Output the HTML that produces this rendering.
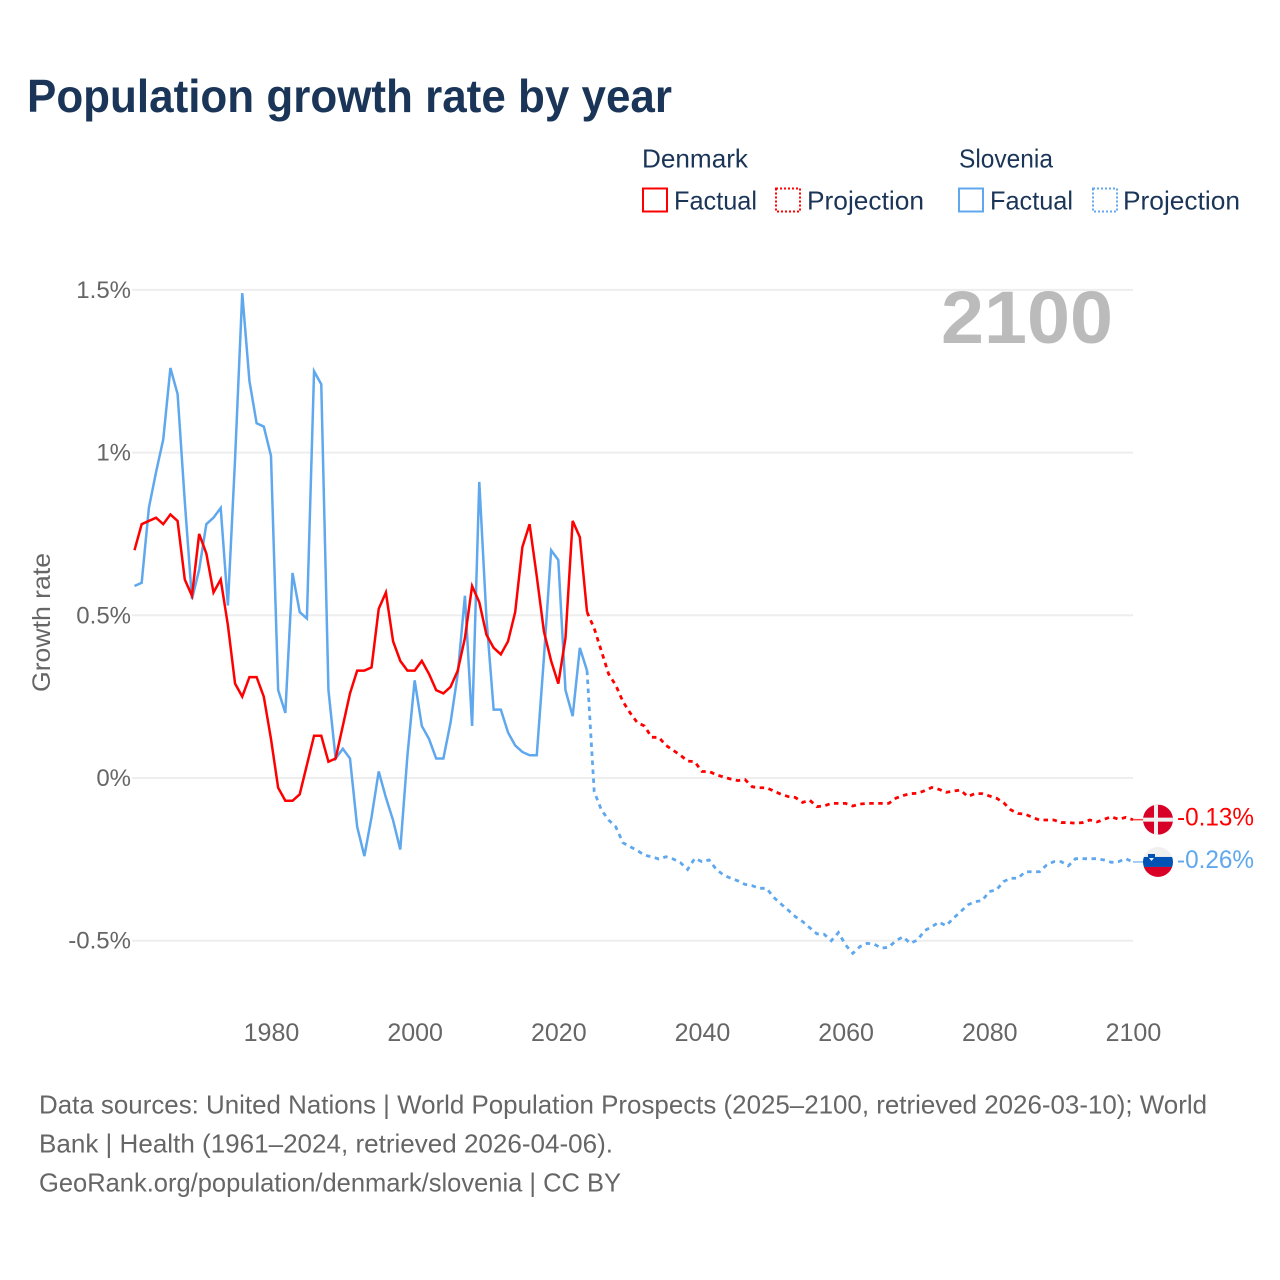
<!DOCTYPE html>
<html lang="en">
<head>
<meta charset="utf-8">
<title>Population growth rate by year</title>
<style>
html,body{margin:0;padding:0;background:#fff;width:1280px;height:1280px;overflow:hidden}
svg{display:block}
text{font-family:"Liberation Sans",sans-serif}
</style>
</head>
<body>
<svg id="chart" width="1280" height="1280" viewBox="0 0 1280 1280" xmlns="http://www.w3.org/2000/svg">
  <defs>
    <clipPath id="flag-clip-0"><circle id="clip-circle-0" cx="1158" cy="819" r="15"/></clipPath>
    <clipPath id="flag-clip-1"><circle id="clip-circle-1" cx="1158" cy="862" r="15"/></clipPath>
  </defs>
  <text x="27" y="112" font-size="46" font-weight="700" fill="#1a3557" textLength="645" lengthAdjust="spacingAndGlyphs">Population growth rate by year</text>

  <g font-size="26" fill="#1a3557">
    <text x="642" y="167.500" textLength="106" lengthAdjust="spacingAndGlyphs">Denmark</text>
    <text x="959" y="167.500" textLength="94" lengthAdjust="spacingAndGlyphs">Slovenia</text>
    <rect x="643" y="188.500" width="24" height="23" fill="none" stroke="#ff0000" stroke-width="2"/>
    <text x="674" y="209.500" textLength="83" lengthAdjust="spacingAndGlyphs">Factual</text>
    <rect x="776" y="188.500" width="24" height="23" fill="none" stroke="#ff0000" stroke-width="2" stroke-dasharray="2 2"/>
    <text x="807" y="209.500" textLength="117" lengthAdjust="spacingAndGlyphs">Projection</text>
    <rect x="959" y="188.500" width="24" height="23" fill="none" stroke="#5fa8ee" stroke-width="2"/>
    <text x="990" y="209.500" textLength="83" lengthAdjust="spacingAndGlyphs">Factual</text>
    <rect x="1093" y="188.500" width="24" height="23" fill="none" stroke="#5fa8ee" stroke-width="2" stroke-dasharray="2 2"/>
    <text x="1123" y="209.500" textLength="117" lengthAdjust="spacingAndGlyphs">Projection</text>
  </g>

  <g id="grid"></g>
  <g id="y-ticks" font-size="24" fill="#666" text-anchor="end"></g>
  <g id="x-ticks" font-size="25" fill="#666" text-anchor="middle"></g>
  <text transform="translate(50 692) rotate(-90)" font-size="25" fill="#666" textLength="139" lengthAdjust="spacingAndGlyphs">Growth rate</text>
  <text x="941" y="343" font-size="74" font-weight="700" fill="#bbbbbb" textLength="172" lengthAdjust="spacingAndGlyphs">2100</text>
  <g id="series"></g>
  <g id="ends"></g>

  <g font-size="26" fill="#666">
    <text x="39" y="1113.500" textLength="1168" lengthAdjust="spacingAndGlyphs">Data sources: United Nations | World Population Prospects (2025–2100, retrieved 2026-03-10); World</text>
    <text x="39" y="1152.500" textLength="574" lengthAdjust="spacingAndGlyphs">Bank | Health (1961–2024, retrieved 2026-04-06).</text>
    <text x="39" y="1191.500" textLength="582" lengthAdjust="spacingAndGlyphs">GeoRank.org/population/denmark/slovenia | CC BY</text>
  </g>
</svg>
<script>
var firstYear = 1961;
var lastFactualYear = 2024;
var yTickValues = [1.5, 1, 0.5, 0, -0.5];
var yTickLabels = ["1.5%", "1%", "0.5%", "0%", "-0.5%"];
var xTickValues = [1980, 2000, 2020, 2040, 2060, 2080, 2100];

var denmarkFactual = [0.70,0.78,0.79,0.80,0.78,0.81,0.79,0.61,0.56,0.75,0.69,0.57,0.61,0.47,0.29,0.25,0.31,0.31,0.25,0.12,-0.03,-0.07,-0.07,-0.05,0.04,0.13,0.13,0.05,0.06,0.16,0.26,0.33,0.33,0.34,0.52,0.57,0.42,0.36,0.33,0.33,0.36,0.32,0.27,0.26,0.28,0.33,0.43,0.59,0.54,0.44,0.40,0.38,0.42,0.51,0.71,0.78,0.62,0.45,0.36,0.29,0.43,0.79,0.74,0.51];
var denmarkProjection = [0.51,0.46,0.39,0.32,0.285,0.235,0.20,0.17,0.16,0.125,0.125,0.10,0.085,0.07,0.052,0.05,0.02,0.02,0.01,0.003,-0.003,-0.008,-0.005,-0.027,-0.03,-0.03,-0.04,-0.05,-0.057,-0.06,-0.075,-0.068,-0.088,-0.086,-0.078,-0.078,-0.078,-0.086,-0.08,-0.078,-0.078,-0.078,-0.078,-0.062,-0.054,-0.048,-0.047,-0.039,-0.029,-0.035,-0.044,-0.04,-0.037,-0.057,-0.048,-0.048,-0.055,-0.062,-0.076,-0.098,-0.109,-0.111,-0.121,-0.129,-0.129,-0.129,-0.137,-0.137,-0.139,-0.137,-0.129,-0.135,-0.127,-0.119,-0.127,-0.121,-0.128];
var sloveniaFactual = [0.59,0.60,0.83,0.94,1.04,1.26,1.18,0.85,0.55,0.64,0.78,0.80,0.83,0.53,0.98,1.49,1.22,1.09,1.08,0.99,0.27,0.20,0.63,0.51,0.49,1.25,1.21,0.27,0.06,0.09,0.06,-0.15,-0.24,-0.12,0.02,-0.06,-0.13,-0.22,0.07,0.30,0.16,0.12,0.06,0.06,0.17,0.32,0.56,0.16,0.91,0.49,0.21,0.21,0.14,0.10,0.08,0.07,0.07,0.37,0.70,0.67,0.27,0.19,0.40,0.33];
var sloveniaProjection = [0.33,-0.042,-0.098,-0.129,-0.15,-0.199,-0.211,-0.223,-0.237,-0.242,-0.249,-0.242,-0.249,-0.26,-0.281,-0.247,-0.257,-0.252,-0.281,-0.298,-0.308,-0.316,-0.327,-0.331,-0.339,-0.339,-0.367,-0.387,-0.406,-0.426,-0.441,-0.46,-0.479,-0.48,-0.50,-0.475,-0.513,-0.539,-0.518,-0.508,-0.511,-0.523,-0.52,-0.50,-0.488,-0.508,-0.498,-0.469,-0.457,-0.443,-0.454,-0.431,-0.411,-0.39,-0.38,-0.377,-0.349,-0.344,-0.318,-0.308,-0.308,-0.288,-0.288,-0.288,-0.267,-0.257,-0.257,-0.27,-0.248,-0.248,-0.248,-0.248,-0.252,-0.259,-0.257,-0.248,-0.258];

var NS = "http://www.w3.org/2000/svg";
var RED = "#ff0000";
var BLUE = "#5fa8ee";

function xScale(year) { return 134.5 + (year - 1961) * 7.183; }
function yScale(value) { return 778 - value * 325.4; }

function make(tag, attrs, parent) {
  var el = document.createElementNS(NS, tag);
  for (var k in attrs) el.setAttribute(k, attrs[k]);
  parent.appendChild(el);
  return el;
}

var grid = document.getElementById("grid");
var yTicks = document.getElementById("y-ticks");
var xTicks = document.getElementById("x-ticks");
var series = document.getElementById("series");
var ends = document.getElementById("ends");

yTickValues.forEach(function (v, i) {
  var line = make("line", { x1: 132, x2: 1133, y1: yScale(v), y2: yScale(v), stroke: "#eeeeee", "stroke-width": 2 }, grid);
  
  
  var label = make("text", { x: 131, y: yScale(v) + 8 }, yTicks);
  
  
  label.textContent = yTickLabels[i];
});

xTickValues.forEach(function (year) {
  var label = make("text", { x: xScale(year) + 0.5, y: 1041 }, xTicks);
  
  
  label.textContent = String(year);
});

function linePath(values, startYear) {
  return values.map(function (v, i) {
    return (i ? "L" : "M") + xScale(startYear + i).toFixed(2) + " " + yScale(v).toFixed(2);
  }).join(" ");
}

function drawLine(values, startYear, color, dashed, name) {
  var path = make("path", {
    d: linePath(values, startYear), fill: "none", stroke: color,
    "stroke-width": dashed ? 2.8 : 2.5, "stroke-linejoin": "miter"
  }, series);
  if (dashed) path.setAttribute("stroke-dasharray", "4.5 4.5");
  
  
}

drawLine(sloveniaFactual, firstYear, BLUE, false, "slovenia-factual-line");
drawLine(sloveniaProjection, lastFactualYear, BLUE, true, "slovenia-projection-line");
drawLine(denmarkFactual, firstYear, RED, false, "denmark-factual-line");
drawLine(denmarkProjection, lastFactualYear, RED, true, "denmark-projection-line");

function endMarker(values, color, clipIndex, country) {
  var last = values[values.length - 1];
  var cy = yScale(last);
  var cx = 1158;
  document.getElementById("clip-circle-" + clipIndex).setAttribute("cy", cy);

  var lead = make("line", { x1: 1133, x2: 1144, y1: cy, y2: cy, stroke: color, "stroke-width": 1.5, opacity: 0.75 }, ends);
  
  

  var flag = make("g", { "clip-path": "url(#flag-clip-" + clipIndex + ")" }, ends);
  
  

  if (country === "denmark") {
    make("rect", { x: cx - 15, y: cy - 15, width: 30, height: 30, fill: "#d80027" }, flag);
    make("rect", { x: cx - 15, y: cy - 2, width: 30, height: 4, fill: "#f0f0f0" }, flag);
    make("rect", { x: cx - 4, y: cy - 15, width: 4, height: 30, fill: "#f0f0f0" }, flag);
  } else {
    make("rect", { x: cx - 15, y: cy - 15, width: 30, height: 10, fill: "#f0f0f0" }, flag);
    make("rect", { x: cx - 15, y: cy - 5, width: 30, height: 10, fill: "#0052b4" }, flag);
    make("rect", { x: cx - 15, y: cy + 5, width: 30, height: 10, fill: "#d80027" }, flag);
    make("path", { d: "M" + (cx - 10) + " " + (cy - 8) + "h7v5l-3.500 3.500l-3.500-3.500z", fill: "#0052b4" }, flag);
    make("path", { d: "M" + (cx - 9) + " " + (cy - 4) + "h5l-2.500 3z", fill: "#f0f0f0" }, flag);
  }

  var label = make("text", { x: 1177, y: cy + 6, "font-size": 25, fill: color, textLength: 77, lengthAdjust: "spacingAndGlyphs" }, ends);
  
  
  label.textContent = last.toFixed(2) + "%";
}

endMarker(denmarkProjection, RED, 0, "denmark");
endMarker(sloveniaProjection, BLUE, 1, "slovenia");
</script>
</body>
</html>
